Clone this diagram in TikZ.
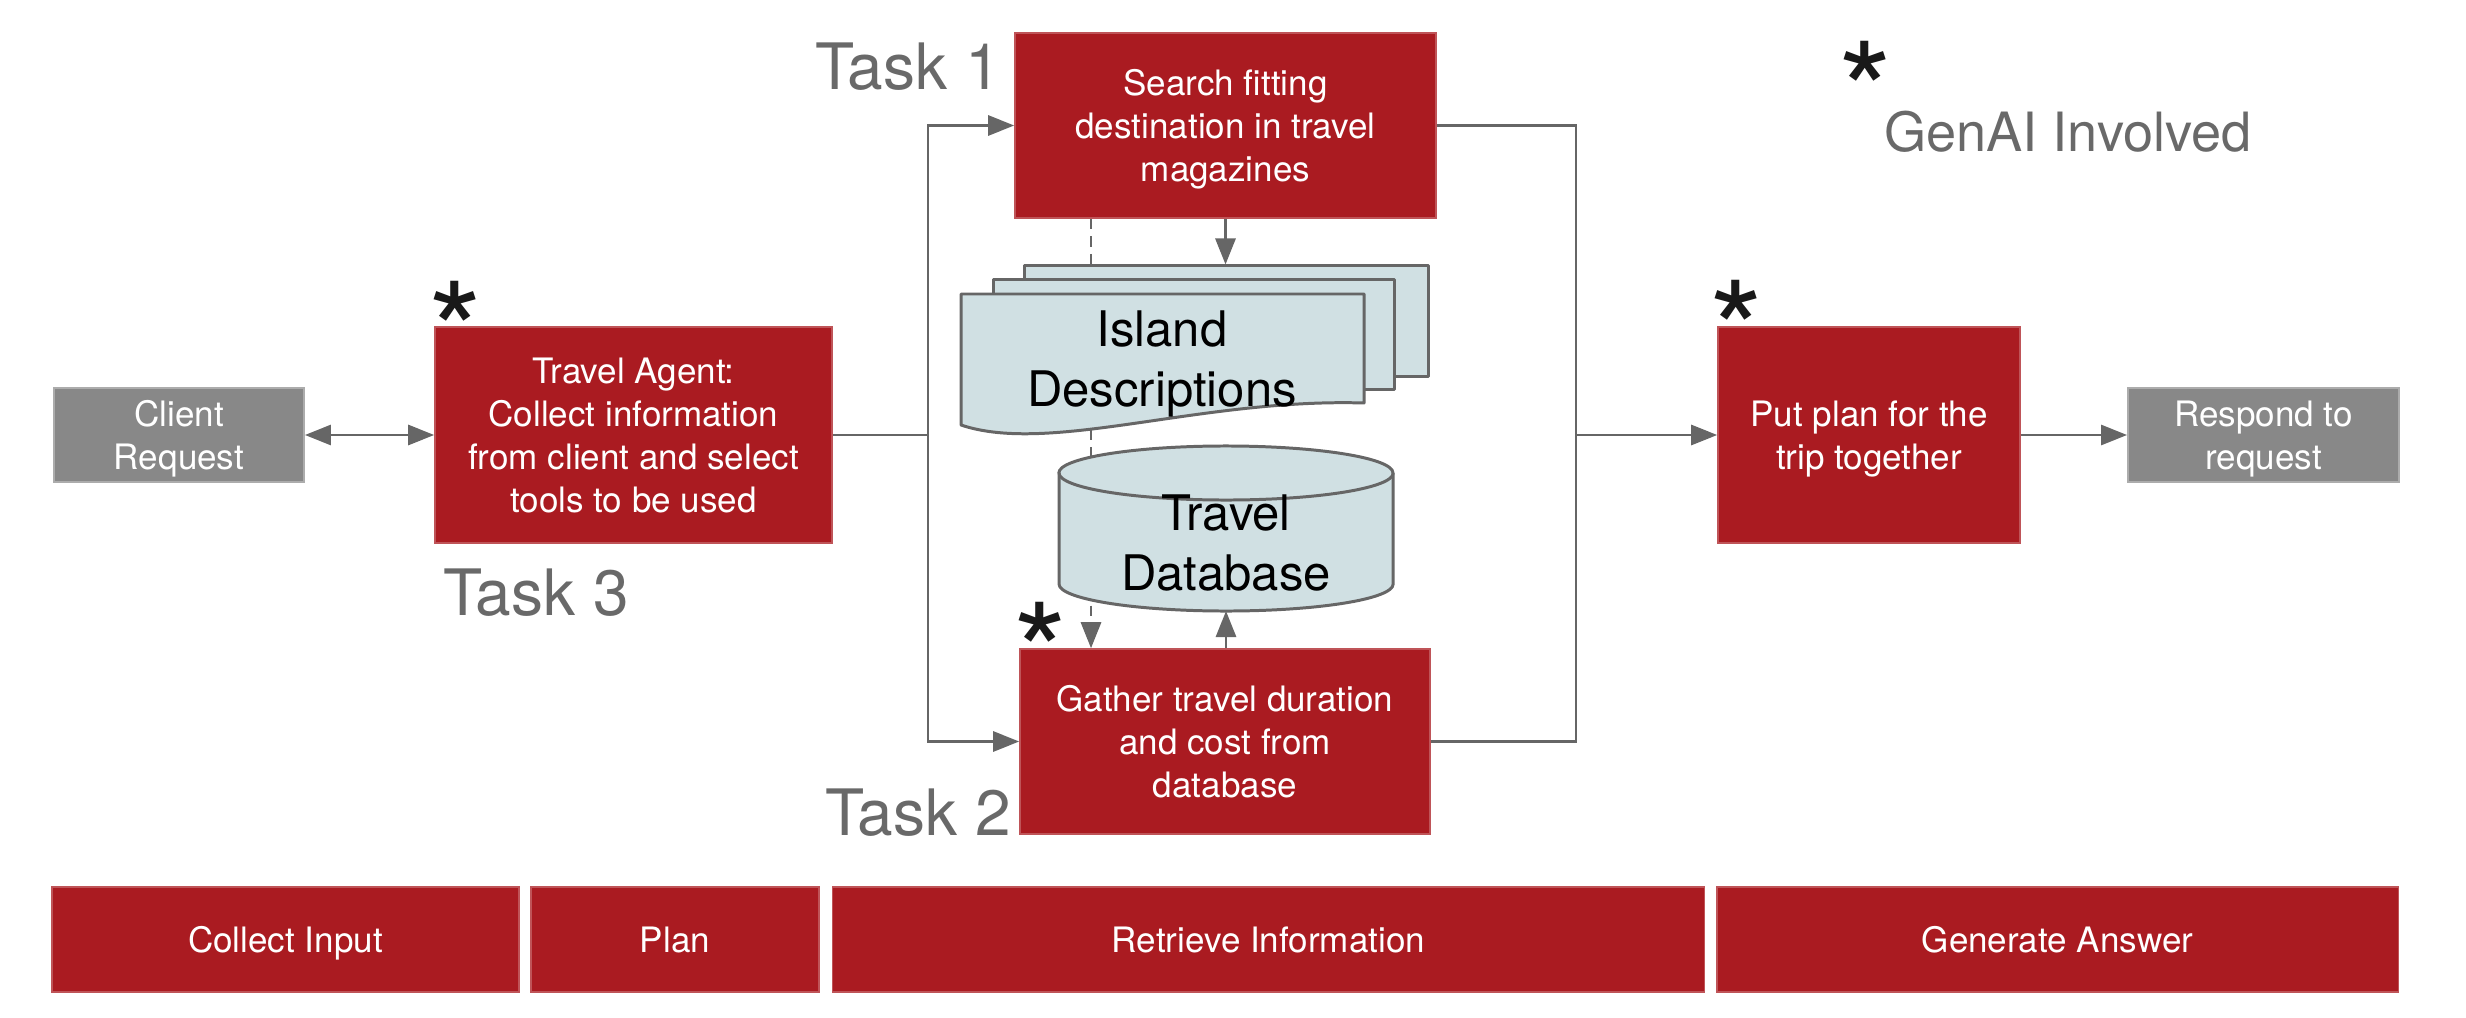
\documentclass[tikz,border=0pt]{standalone}
\usepackage{fontspec}
\setmainfont{TeX Gyre Heros}
\usetikzlibrary{arrows.meta}
\definecolor{boxred}{RGB}{170,27,33}
\definecolor{boxgray}{RGB}{136,136,136}
\definecolor{linegray}{RGB}{102,102,102}
\definecolor{docfill}{RGB}{208,224,227}
\definecolor{lblgray}{RGB}{105,105,105}
\definecolor{astblack}{RGB}{25,25,25}
\begin{document}
\begin{tikzpicture}[x=0.01cm,y=-0.01cm,
  boxtext/.style={text=white, align=center, inner sep=0pt, text depth=0pt,
    font=\fontsize{9.96pt}{12.23pt}\selectfont},
  redbox/.style={boxtext, fill=boxred, draw=boxred!75!white, line width=0.4pt},
  graybox/.style={boxtext, fill=boxgray, draw=boxgray!70!white, line width=0.5pt},
  conn/.style={draw=linegray, line width=0.8pt},
  arr/.style={conn, -{Triangle[length=7.4pt,width=5.7pt]}},
  arrboth/.style={conn, {Triangle[length=7.4pt,width=5.7pt]}-{Triangle[length=7.4pt,width=5.7pt]}},
  dasharr/.style={arr, dash pattern=on 3pt off 2pt},
  docstyle/.style={fill=docfill, draw=linegray, line width=0.85pt, line join=round},
  doctext/.style={align=center, inner sep=0pt, text=black,
    font=\fontsize{13.94pt}{17.07pt}\selectfont},
  tasklbl/.style={inner sep=0pt, text=lblgray, font=\fontsize{18.2pt}{20pt}\selectfont},
  legendlbl/.style={inner sep=0pt, text=lblgray, font=\fontsize{15.4pt}{18pt}\selectfont},
  astk/.style={inner sep=0pt, text=astblack, font=\fontsize{39.5pt}{40pt}\selectfont}
]
\useasboundingbox (0,0) rectangle (2466,1018);

% main boxes
\node[graybox, minimum width=2.50cm, minimum height=0.94cm] (client) at (179,435) {Client\\Request};
\node[redbox, minimum width=3.97cm, minimum height=2.16cm] (agent) at (633.5,435) {Travel Agent:\\Collect information\\from client and select\\tools to be used};
\node[redbox, minimum width=4.21cm, minimum height=1.85cm] (t1) at (1225.5,125.5) {Search fitting\\destination in travel\\magazines};
\node[redbox, minimum width=4.10cm, minimum height=1.85cm] (t2) at (1225,741.5) {Gather travel duration\\and cost from\\database};
\node[redbox, minimum width=3.02cm, minimum height=2.16cm] (plan) at (1869,435) {Put plan for the\\trip together};
\node[graybox, minimum width=2.71cm, minimum height=0.94cm] (resp) at (2263.5,435) {Respond to\\request};

% dashed connector behind the stores
\coordinate (dashx) at (1091,0);
\draw[dasharr] (t1.south -| dashx) -- (t2.north -| dashx);

% documents
\node[docstyle, minimum width=4.03cm, minimum height=1.10cm, inner sep=0pt] (docB) at (1226.5,321) {};
\node[docstyle, minimum width=4.00cm, minimum height=1.09cm, inner sep=0pt] (docM) at (1194,334.5) {};
\path[docstyle] (961,294) -- (1364,294) -- (1364,403) .. controls (1200,398) and (1050,455) .. (961,425) -- cycle;
\node[doctext] (docs) at (1162,364) {Island\\Descriptions};

% database cylinder
\path[docstyle] (1059,473) -- (1059,584)
  arc[start angle=180, end angle=360, x radius=1.67cm, y radius=0.27cm]
  -- (1393,473)
  arc[start angle=0, end angle=180, x radius=1.67cm, y radius=0.27cm] -- cycle;
\draw[draw=linegray, line width=0.85pt] (1059,473)
  arc[start angle=180, end angle=360, x radius=1.67cm, y radius=0.27cm];
\coordinate (cylbot) at (1226,611);
\node[doctext] (db) at (1226,543) {Travel\\Database};

% connectors
\coordinate (jl) at (928,435);
\coordinate (jr) at (1576,435);
\draw[arrboth] (client.east) -- (agent.west);
\draw[conn] (agent.east) -- (jl);
\draw[arr] (jl) |- (t1.west);
\draw[arr] (jl) |- (t2.west);
\draw[conn] (t1.east) -| (jr);
\draw[conn] (t2.east) -| (jr);
\draw[arr] (jr) -- (plan.west);
\draw[arr] (plan.east) -- (resp.west);
\draw[arr] (t1.south) -- (t1.south |- docB.north);
\draw[arr] (t2.north -| cylbot) -- (cylbot);

% labels
\node[tasklbl, anchor=base] (l1) at (908,89) {Task 1};
\node[tasklbl, anchor=base] (l3) at (536,615) {Task 3};
\node[tasklbl, anchor=base] (l2) at (918,835) {Task 2};
\node[legendlbl, anchor=base] (lg) at (2068,151) {GenAI Involved};

% asterisks
\node[astk, anchor=base] (s0) at (1865,142) {*};
\node[astk, anchor=base] (s1) at (456,382) {*};
\node[astk, anchor=base] (s2) at (1736,381) {*};
\node[astk, anchor=base] (s3) at (1041,703) {*};

% phase bar
\node[redbox, minimum width=4.67cm, minimum height=1.05cm] (b1) at (285.5,939.5) {Collect Input};
\node[redbox, minimum width=2.88cm, minimum height=1.05cm] (b2) at (675,939.5) {Plan};
\node[redbox, minimum width=8.71cm, minimum height=1.05cm] (b3) at (1268.5,939.5) {Retrieve Information};
\node[redbox, minimum width=6.81cm, minimum height=1.05cm] (b4) at (2057.5,939.5) {Generate Answer};
\end{tikzpicture}
\end{document}
